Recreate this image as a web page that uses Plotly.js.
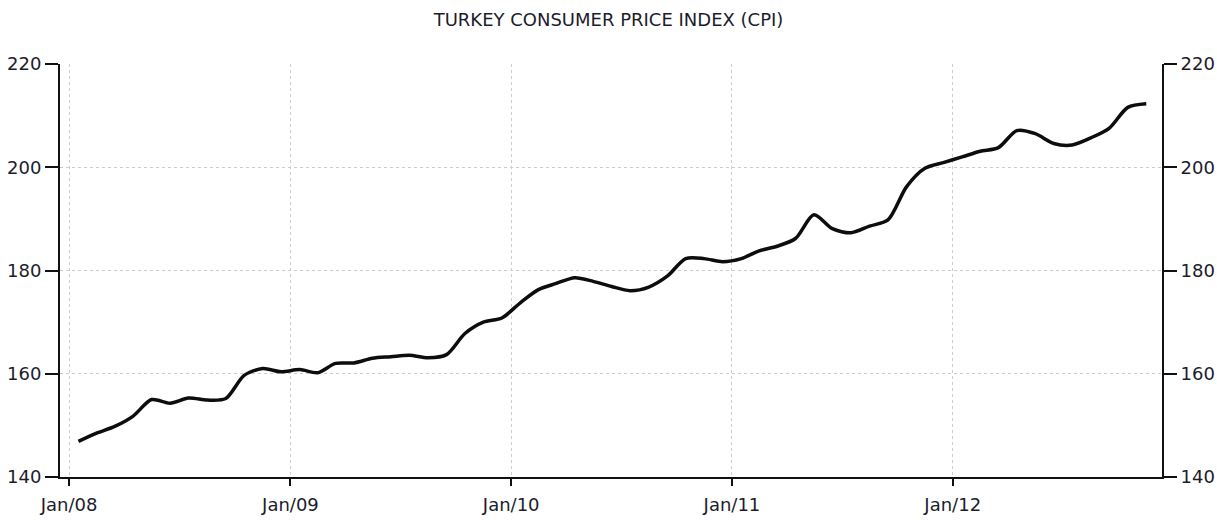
<!DOCTYPE html>
<html>
<head>
<meta charset="utf-8">
<script src="https://cdn.plot.ly/plotly-3.0.1.min.js"></script>
<style>
  html, body { margin: 0; padding: 0; background: #ffffff; }
  #chart { width: 1217px; height: 520px; }
</style>
</head>
<body>
<div id="chart"></div>
<script>
// Monthly observations, Jan 2008 - Nov 2012
const months = [
  "2008-01","2008-02","2008-03","2008-04","2008-05","2008-06","2008-07","2008-08","2008-09","2008-10","2008-11","2008-12",
  "2009-01","2009-02","2009-03","2009-04","2009-05","2009-06","2009-07","2009-08","2009-09","2009-10","2009-11","2009-12",
  "2010-01","2010-02","2010-03","2010-04","2010-05","2010-06","2010-07","2010-08","2010-09","2010-10","2010-11","2010-12",
  "2011-01","2011-02","2011-03","2011-04","2011-05","2011-06","2011-07","2011-08","2011-09","2011-10","2011-11","2011-12",
  "2012-01","2012-02","2012-03","2012-04","2012-05","2012-06","2012-07","2012-08","2012-09","2012-10","2012-11"
];

// Consumer price index values
const cpi = [
  146.9, 148.5, 149.8, 151.8, 155.0, 154.3, 155.3, 154.9, 155.2, 159.7, 161.0, 160.4,
  160.8, 160.2, 162.0, 162.1, 163.0, 163.3, 163.6, 163.1, 163.7, 167.8, 170.0, 170.8,
  173.8, 176.3, 177.5, 178.6, 177.9, 176.9, 176.1, 176.8, 178.9, 182.3, 182.3, 181.7,
  182.3, 183.8, 184.7, 186.2, 190.8, 188.1, 187.3, 188.6, 189.8, 196.2, 199.8, 200.9,
  202.0, 203.1, 203.8, 207.1, 206.5, 204.6, 204.3, 205.7, 207.6, 211.6, 212.3
];

const chartTitle = "TURKEY CONSUMER PRICE INDEX (CPI)";
const yTicks = [140, 160, 180, 200, 220];

const FONT = "'DejaVu Sans', Verdana, sans-serif";
const TXT = "#1c1c2c";

const traces = [
  {
    x: months,
    y: cpi,
    xperiod: "M1",
    xperiodalignment: "middle",
    type: "scatter",
    mode: "lines",
    line: { color: "#0d0d0d", width: 3.5, shape: "spline", smoothing: 0.8 },
    hoverinfo: "x+y",
    showlegend: false
  },
  {
    x: months,
    y: cpi,
    xperiod: "M1",
    xperiodalignment: "middle",
    yaxis: "y2",
    type: "scatter",
    mode: "lines",
    line: { color: "rgba(0,0,0,0)", width: 0 },
    hoverinfo: "skip",
    showlegend: false
  }
];

const layout = {
  width: 1217,
  height: 520,
  paper_bgcolor: "#ffffff",
  plot_bgcolor: "#ffffff",
  margin: { l: 60, r: 55, t: 64, b: 43 },
  font: { family: FONT, color: TXT, size: 17 },
  title: {
    text: chartTitle,
    x: 0.5,
    xanchor: "center",
    y: 0.963,
    yref: "container",
    yanchor: "middle",
    font: { family: FONT, size: 18, color: TXT }
  },
  xaxis: {
    type: "date",
    range: ["2007-12-17", "2012-12-12"],
    tick0: "2008-01-01",
    dtick: "M12",
    tickformat: "%b/%y",
    ticks: "outside",
    ticklen: 7,
    tickwidth: 2,
    tickcolor: "#111111",
    ticklabelstandoff: 3,
    showline: true,
    linecolor: "#111111",
    linewidth: 2,
    showgrid: true,
    gridcolor: "#cccccc",
    gridwidth: 1,
    griddash: "dot",
    zeroline: false,
    tickfont: { family: FONT, size: 18, color: TXT },
    fixedrange: true
  },
  yaxis: {
    range: [140, 220],
    tickvals: yTicks,
    ticks: "outside",
    ticklen: 13,
    tickwidth: 2,
    tickcolor: "#111111",
    showline: true,
    linecolor: "#111111",
    linewidth: 2,
    showgrid: true,
    gridcolor: "#cccccc",
    gridwidth: 1,
    griddash: "dot",
    zeroline: false,
    tickfont: { family: FONT, size: 18, color: TXT },
    fixedrange: true
  },
  yaxis2: {
    overlaying: "y",
    side: "right",
    range: [140, 220],
    tickvals: yTicks,
    ticks: "outside",
    ticklen: 13,
    tickwidth: 2,
    tickcolor: "#111111",
    showline: true,
    linecolor: "#111111",
    linewidth: 2,
    showgrid: false,
    zeroline: false,
    tickfont: { family: FONT, size: 18, color: TXT },
    fixedrange: true
  },
  showlegend: false
};

Plotly.newPlot("chart", traces, layout, { displayModeBar: false, staticPlot: true });
</script>
</body>
</html>
